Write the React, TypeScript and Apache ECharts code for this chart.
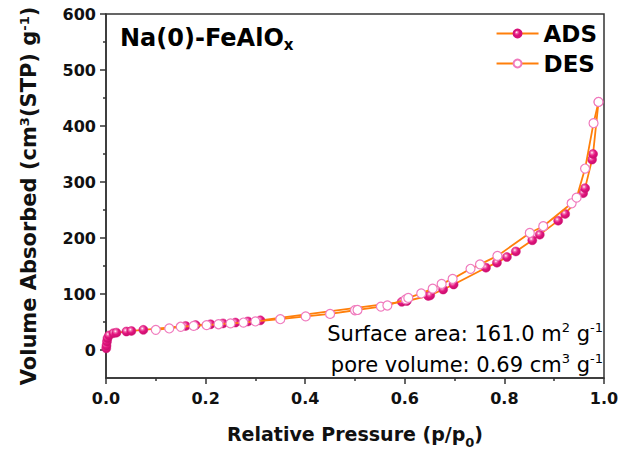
import React, { useEffect, useRef } from "react";
import * as echarts from "echarts";

const adsP = [0.0005, 0.001, 0.002, 0.003, 0.006, 0.015, 0.021, 0.041, 0.051, 0.075, 0.16, 0.18, 0.21, 0.235, 0.26, 0.285, 0.31, 0.594, 0.604, 0.647, 0.651, 0.677, 0.698, 0.763, 0.785, 0.805, 0.823, 0.856, 0.871, 0.908, 0.922, 0.958, 0.962, 0.976, 0.978, 0.989];
const adsV = [3, 8, 15, 21, 26, 30, 31, 33, 34, 36, 43, 44.5, 46, 47.5, 49, 51, 53, 86, 87.5, 96.5, 97.7, 108, 117, 147, 156, 166, 176, 196, 206, 231, 243, 280, 289, 340, 350, 443];

const desP = [0.1, 0.127, 0.15, 0.176, 0.202, 0.226, 0.25, 0.276, 0.3, 0.35, 0.401, 0.45, 0.5, 0.505, 0.552, 0.565, 0.602, 0.607, 0.633, 0.656, 0.674, 0.696, 0.732, 0.751, 0.786, 0.851, 0.878, 0.935, 0.945, 0.962, 0.979, 0.989];
const desV = [36, 38.5, 41.5, 43, 44.5, 46, 47.5, 49, 51, 55, 60, 64.5, 71, 71.5, 77.5, 79.5, 90.5, 93, 101, 109.5, 118, 127, 145, 153, 168, 209, 221, 262, 272, 324, 405, 443];

const yMajor = [0, 100, 200, 300, 400, 500, 600];
const yMinor = [50, 150, 250, 350, 450, 550];

const FONT = "DejaVu Sans, Liberation Sans, sans-serif";

export default function App() {
  const ref = useRef<HTMLDivElement>(null);
  useEffect(() => {
    if (!ref.current) return;
    const chart = echarts.init(ref.current, null, { renderer: "svg" });
    const ads = adsP.map((p, i) => [p, adsV[i]]);
    const des = desP.map((p, i) => [p, desV[i]]);
    const lineColor = "#FF7F0A";
    const adsFill = {
      type: "radial",
      x: 0.38,
      y: 0.35,
      r: 0.65,
      colorStops: [
        { offset: 0, color: "#ffffff" },
        { offset: 0.25, color: "#F26AAE" },
        { offset: 0.55, color: "#E3157F" },
        { offset: 1, color: "#C80E6C" },
      ],
    };
    const sup = { fontSize: 13, verticalAlign: "top", lineHeight: 23, fontFamily: FONT, color: "#111" };
    const option: any = {
      animation: false,
      backgroundColor: "#fff",
      grid: { left: 106, right: 26, top: 14, bottom: 74, show: true, borderColor: "#333", borderWidth: 1.5, backgroundColor: "transparent" },
      legend: {
        data: ["ADS", "DES"],
        orient: "vertical",
        right: 28,
        top: 17,
        itemWidth: 42,
        itemHeight: 10,
        itemGap: 7,
        textStyle: { fontFamily: FONT, fontWeight: "bold", fontSize: 23, color: "#000" },
      },
      xAxis: {
        type: "value",
        min: 0,
        max: 1,
        interval: 0.2,
        name: "Relative Pressure (p/p{sub|0})",
        nameLocation: "middle",
        nameGap: 46,
        nameTextStyle: {
          fontFamily: FONT, fontWeight: "bold", fontSize: 19, color: "#111",
          rich: { sub: { fontFamily: FONT, fontWeight: "bold", fontSize: 13, verticalAlign: "bottom", lineHeight: 16, padding: [0, 0, -6, 0], color: "#111" } },
        },
        axisLine: { onZero: false, lineStyle: { color: "#333", width: 1.5 } },
        axisTick: { length: 6, lineStyle: { color: "#333", width: 1.5 } },
        minorTick: { show: true, splitNumber: 2, length: 3, lineStyle: { color: "#333", width: 1.5 } },
        splitLine: { show: false },
        axisLabel: { fontFamily: FONT, fontWeight: "bold", fontSize: 16, color: "#111", margin: 12, formatter: (v: number) => v.toFixed(1) },
      },
      yAxis: [
        {
          type: "value",
          min: -50,
          max: 600,
          name: "Volume Absorbed (cm{sup|3}(STP) g{sup|-1})",
          nameLocation: "middle",
          nameGap: 66,
          nameRotate: 90,
          nameTextStyle: {
            fontFamily: FONT, fontWeight: "bold", fontSize: 21, color: "#111",
            rich: { sup: { fontFamily: FONT, fontWeight: "bold", fontSize: 13, verticalAlign: "top", lineHeight: 22, color: "#111" } },
          },
          axisLine: { onZero: false, lineStyle: { color: "#333", width: 1.5 } },
          axisTick: { length: 6, customValues: yMajor, lineStyle: { color: "#333", width: 1.5 } },
          splitLine: { show: false },
          axisLabel: { customValues: yMajor, fontFamily: FONT, fontWeight: "bold", fontSize: 16, color: "#111", margin: 10 },
        },
        {
          type: "value",
          min: -50,
          max: 600,
          position: "left",
          axisLine: { show: false, onZero: false },
          axisTick: { length: 3, customValues: yMinor, lineStyle: { color: "#333", width: 1.5 } },
          axisLabel: { show: false },
          splitLine: { show: false },
        },
      ],
      graphic: [
        {
          type: "text",
          left: 120,
          top: 26,
          style: {
            text: "{t|Na(0)-FeAlO}{s|x}",
            rich: {
              t: { fontFamily: FONT, fontWeight: "bold", fontSize: 24, color: "#111", lineHeight: 28 },
              s: { fontFamily: FONT, fontWeight: "bold", fontSize: 15, color: "#111", verticalAlign: "bottom", lineHeight: 20 },
            },
          },
        },
        {
          type: "text",
          right: 27,
          top: 321,
          style: {
            text: "{a|Surface area: 161.0 m}{s|2}{a| g}{s|-1}",
            rich: { a: { fontFamily: FONT, fontSize: 21, color: "#111", lineHeight: 25 }, s: sup },
          },
        },
        {
          type: "text",
          right: 27,
          top: 352,
          style: {
            text: "{a|pore volume: 0.69 cm}{s|3}{a| g}{s|-1}",
            rich: { a: { fontFamily: FONT, fontSize: 21, color: "#111", lineHeight: 25 }, s: sup },
          },
        },
      ],
      series: [
        {
          name: "ADS",
          type: "line",
          data: ads,
          symbol: "circle",
          symbolSize: 9,
          showAllSymbol: true,
          lineStyle: { color: lineColor, width: 1.8 },
          itemStyle: { color: adsFill, borderColor: "#D8127A", borderWidth: 0.5 },
          z: 2,
        },
        {
          name: "DES",
          type: "line",
          data: des,
          symbol: "circle",
          symbolSize: 9,
          showAllSymbol: true,
          lineStyle: { color: lineColor, width: 1.8 },
          itemStyle: { color: "#ffffff", borderColor: "#F07BBE", borderWidth: 1.2 },
          z: 3,
        },
      ],
    };
    chart.setOption(option);
    return () => chart.dispose();
  }, []);
  return <div ref={ref} style={{ position: "fixed", left: 0, top: 0, width: 630, height: 454 }} />;
}
